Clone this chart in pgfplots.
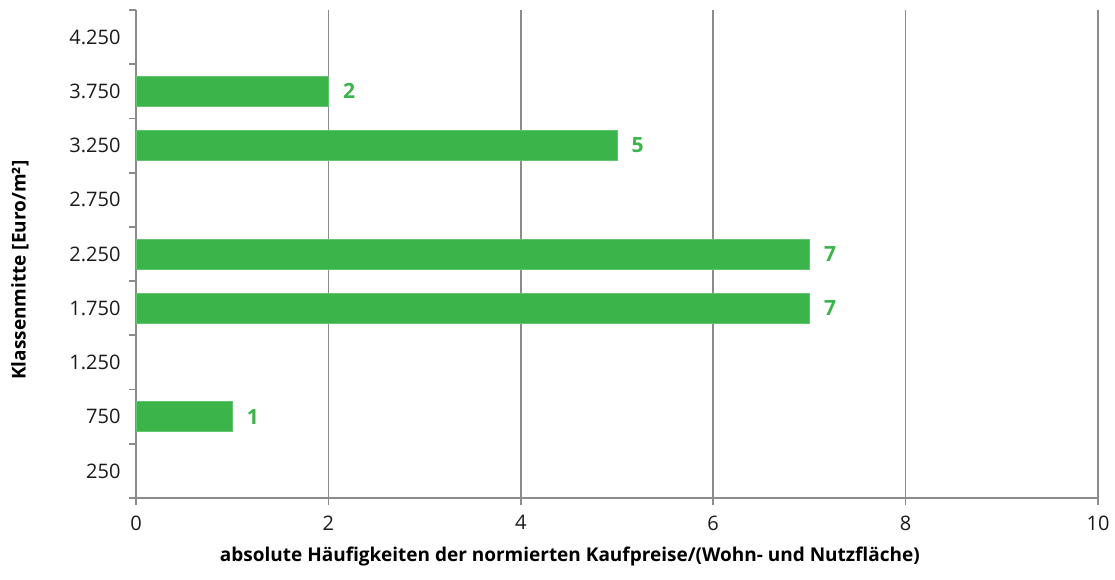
\documentclass[border=0pt]{standalone}
\usepackage{fontspec}
\setmainfont{Open Sans}
\usepackage{pgfplots}
\pgfplotsset{compat=1.18}
\definecolor{barg}{HTML}{3BB54A}
\definecolor{gridg}{HTML}{8C8C8C}
\definecolor{txt}{HTML}{1A1A1A}
\begin{document}
\begin{tikzpicture}
\useasboundingbox (-136pt,-81pt) rectangle (979pt,498pt);
\begin{axis}[
  at={(0pt,0pt)}, anchor=south west,
  scale only axis,
  width=962pt, height=488pt,
  xmin=0, xmax=10,
  ymin=-0.5, ymax=8.5,
  xbar, bar width=30pt,
  axis x line*=bottom, axis y line*=left,
  axis line style={gridg, line width=1.7pt},
  xtick={0,2,4,6,8,10},
  xmajorgrids, grid style={gridg, line width=1.7pt},
  ytick={0,1,2,3,4,5,6,7,8},
  yticklabels={250,750,{1.250},{1.750},{2.250},{2.750},{3.250},{3.750},{4.250}},
  minor ytick={-0.5,0.5,...,8.5},
  tick align=outside,
  major tick length=7pt, minor tick length=7pt,
  major y tick style={draw=none},
  minor y tick style={draw=gridg, line width=1.7pt},
  major x tick style={draw=gridg, line width=1.7pt},
  /pgf/number format/assume math mode=true,
  ticklabel style={font=\fontsize{20}{22}\selectfont, text=txt},
  yticklabel style={xshift=-5pt},
  xticklabel style={yshift=-7pt},
  xlabel={absolute Häufigkeiten der normierten Kaufpreise/(Wohn- und Nutzfläche)},
  ylabel={Klassenmitte [Euro/m²]},
  label style={font=\bfseries\fontsize{19}{22}\selectfont, text=black},
  xlabel style={at={(rel axis cs:0.451,0)}, anchor=center, yshift=-59pt},
  ylabel style={at={(rel axis cs:0,0.467)}, anchor=center, yshift=116pt},
  nodes near coords,
  nodes near coords style={font=\bfseries\fontsize{21}{22}\selectfont, text=barg, anchor=west, xshift=11pt},
]
\addplot[fill=barg, draw=barg!80!white, line width=0.6pt] coordinates {
  (1,1) (7,3) (7,4) (5,6) (2,7)
};
\end{axis}
\end{tikzpicture}
\end{document}
